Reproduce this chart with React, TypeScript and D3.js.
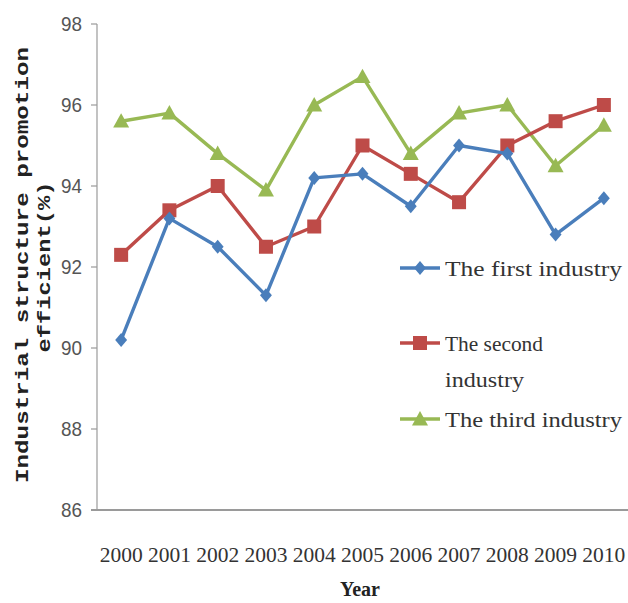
import React from "react";
import * as d3 from "d3";

const years = ["2000", "2001", "2002", "2003", "2004", "2005", "2006", "2007", "2008", "2009", "2010"];
const firstIndustry = [90.2, 93.2, 92.5, 91.3, 94.2, 94.3, 93.5, 95.0, 94.8, 92.8, 93.7];
const secondIndustry = [92.3, 93.4, 94.0, 92.5, 93.0, 95.0, 94.3, 93.6, 95.0, 95.6, 96.0];
const thirdIndustry = [95.6, 95.8, 94.8, 93.9, 96.0, 96.7, 94.8, 95.8, 96.0, 94.5, 95.5];
const yTicks = [86, 88, 90, 92, 94, 96, 98];

const W = 628;
const H = 603;
const left = 97;
const right = 628;
const top = 24;
const bottom = 510;

const BLUE = "#4a7ebb";
const RED = "#be4b48";
const GREEN = "#98b954";

const serif = "'Liberation Serif', 'DejaVu Serif', serif";
const mono = "'Liberation Mono', 'DejaVu Sans Mono', monospace";
const sans = "'Liberation Sans', Arial, sans-serif";

type Shape = "diamond" | "square" | "triangle";

function Marker({ shape, x, y, color }: { shape: Shape; x: number; y: number; color: string }) {
  if (shape === "diamond") {
    const s = 7;
    return <path d={`M${x},${y - s}L${x + s * 0.85},${y}L${x},${y + s}L${x - s * 0.85},${y}Z`} fill={color} />;
  }
  if (shape === "square") {
    const s = 7;
    return <rect x={x - s} y={y - s} width={2 * s} height={2 * s} fill={color} />;
  }
  const s = 8;
  return <path d={`M${x},${y - s}L${x + s},${y + s * 0.8}L${x - s},${y + s * 0.8}Z`} fill={color} />;
}

export default function App() {
  const x = d3.scaleBand<string>().domain(years).range([left, right]);
  const y = d3.scaleLinear().domain([86, 98]).range([bottom, top]);
  const cx = (d: string) => (x(d) ?? 0) + x.bandwidth() / 2;

  const series: { name: string; values: number[]; color: string; shape: Shape }[] = [
    { name: "third", values: thirdIndustry, color: GREEN, shape: "triangle" },
    { name: "second", values: secondIndustry, color: RED, shape: "square" },
    { name: "first", values: firstIndustry, color: BLUE, shape: "diamond" },
  ];

  const line = d3
    .line<number>()
    .x((_, i) => cx(years[i]))
    .y((v) => y(v));

  const legend: { lines: string[]; color: string; shape: Shape; y: number; len: number[] }[] = [
    { lines: ["The first industry"], color: BLUE, shape: "diamond", y: 268, len: [177] },
    { lines: ["The second", "industry"], color: RED, shape: "square", y: 343, len: [98, 79] },
    { lines: ["The third industry"], color: GREEN, shape: "triangle", y: 419, len: [177] },
  ];

  return (
    <div style={{ position: "fixed", left: 0, top: 0 }}>
      <svg width={W} height={H} style={{ display: "block", background: "#fff" }}>
        {/* y axis */}
        <line x1={left} x2={left} y1={top} y2={bottom} stroke="#9a9a9a" strokeWidth={1.2} />
        {yTicks.map((t) => (
          <g key={t}>
            <line x1={left - 6} x2={left} y1={y(t)} y2={y(t)} stroke="#9a9a9a" strokeWidth={1.2} />
            <text
              x={82}
              y={y(t)}
              dy="0.36em"
              textAnchor="end"
              fontFamily={sans}
              fontSize={20}
              fill="#555"
              textLength={21}
              lengthAdjust="spacingAndGlyphs"
            >
              {t}
            </text>
          </g>
        ))}
        {/* x axis */}
        <line x1={left - 6} x2={right} y1={bottom} y2={bottom} stroke="#9a9a9a" strokeWidth={2} />
        {years.map((yr) => (
          <text
            key={yr}
            x={cx(yr)}
            y={562}
            textAnchor="middle"
            fontFamily={serif}
            fontSize={22}
            fill="#333"
            textLength={43}
            lengthAdjust="spacingAndGlyphs"
          >
            {yr}
          </text>
        ))}
        <text
          x={360}
          y={596}
          textAnchor="middle"
          fontFamily={serif}
          fontSize={20}
          fontWeight="bold"
          fill="#222"
          textLength={40}
          lengthAdjust="spacingAndGlyphs"
        >
          Year
        </text>

        {/* y axis title */}
        <text
          transform={`translate(28,265) rotate(-90)`}
          textAnchor="middle"
          fontFamily={mono}
          fontSize={18}
          fontWeight="bold"
          fill="#222"
          textLength={436}
          lengthAdjust="spacingAndGlyphs"
        >
          Industrial structure promotion
        </text>
        <text
          transform={`translate(50,267) rotate(-90)`}
          textAnchor="middle"
          fontFamily={mono}
          fontSize={18}
          fontWeight="bold"
          fill="#222"
          textLength={171}
          lengthAdjust="spacingAndGlyphs"
        >
          efficient(%)
        </text>

        {/* series */}
        {series.map((s) => (
          <g key={s.name}>
            <path d={line(s.values) ?? ""} fill="none" stroke={s.color} strokeWidth={3.4} strokeLinejoin="round" />
            {s.values.map((v, i) => (
              <Marker key={i} shape={s.shape} x={cx(years[i])} y={y(v)} color={s.color} />
            ))}
          </g>
        ))}

        {/* legend */}
        {legend.map((l) => (
          <g key={l.lines[0]}>
            <line x1={400} x2={440} y1={l.y} y2={l.y} stroke={l.color} strokeWidth={3.4} />
            <Marker shape={l.shape} x={420} y={l.y} color={l.color} />
            {l.lines.map((t, i) => (
              <text
                key={i}
                x={445}
                y={l.y + i * 36}
                dy="0.35em"
                fontFamily={serif}
                fontSize={22}
                fill="#333"
                textLength={l.len[i]}
                lengthAdjust="spacingAndGlyphs"
              >
                {t}
              </text>
            ))}
          </g>
        ))}
      </svg>
    </div>
  );
}
